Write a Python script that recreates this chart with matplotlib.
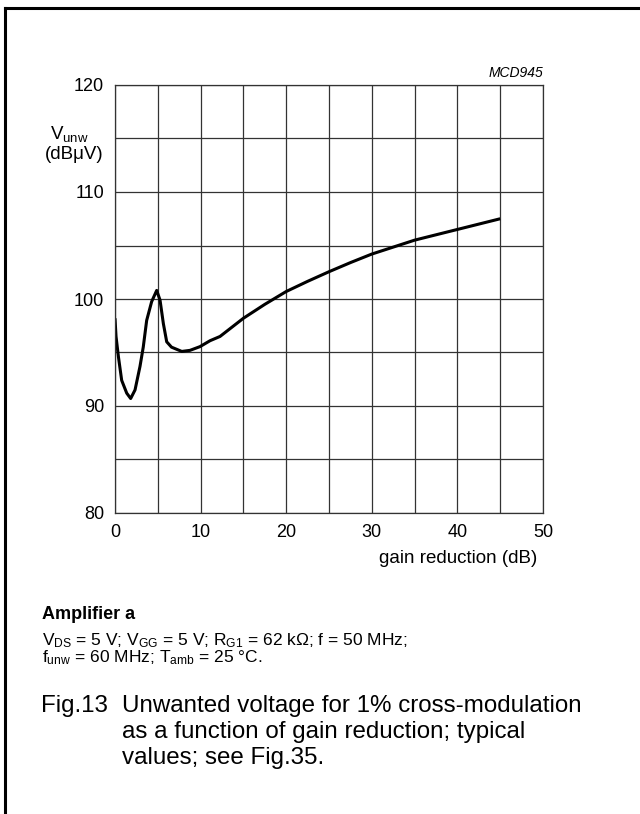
import numpy as np
import matplotlib
matplotlib.use("Agg")
import matplotlib.pyplot as plt
from matplotlib.lines import Line2D

plt.rcParams['font.family'] = ['Liberation Sans', 'DejaVu Sans']
plt.rcParams['mathtext.fontset'] = 'custom'
plt.rcParams['mathtext.rm'] = 'Liberation Sans'
plt.rcParams['mathtext.it'] = 'Liberation Sans:italic'
plt.rcParams['mathtext.bf'] = 'Liberation Sans:bold'

# curve (gain reduction dB, Vunw dBuV)
gain_red = [0.0, 0.12, 0.4, 0.78, 1.37, 1.83, 2.34, 2.92, 3.3, 3.7, 4.28, 4.87,
            5.26, 5.65, 6.04, 6.6, 7.8, 8.76, 9.93, 11.1, 12.27, 15.0, 17.5,
            20.0, 22.5, 25.0, 27.5, 30.0, 32.5, 35.0, 37.5, 40.0, 42.5, 45.0]
v_unw = [98.2, 96.5, 94.6, 92.4, 91.2, 90.7, 91.5, 93.7, 95.5, 98.0, 99.75, 100.8,
         99.9, 97.7, 96.0, 95.5, 95.1, 95.2, 95.55, 96.1, 96.5, 98.2, 99.5,
         100.7, 101.65, 102.55, 103.4, 104.2, 104.85, 105.5, 106.0, 106.5, 107.0, 107.5]

x_ticks = [0, 10, 20, 30, 40, 50]
y_ticks = [80, 90, 100, 110, 120]

W, H = 640, 814
fig = plt.figure(figsize=(W / 100, H / 100), dpi=100)

# page frame (top and left edges only)
fig.add_artist(Line2D([5 / W, 1.0], [1 - 8 / H, 1 - 8 / H], color='black', lw=2.2))
fig.add_artist(Line2D([5 / W, 5 / W], [1 - 8 / H, 0.0], color='black', lw=2.2))

ax = fig.add_axes([115 / W, 1 - 513 / H, 428 / W, 428 / H])
ax.plot(gain_red, v_unw, color='black', lw=2.2, solid_capstyle='butt')
ax.set_xlim(0, 50)
ax.set_ylim(80, 120)
ax.set_xticks(np.arange(0, 51, 5))
ax.set_yticks(np.arange(80, 121, 5))
ax.set_xticklabels([str(t) if t in x_ticks else '' for t in range(0, 51, 5)])
ax.set_yticklabels([str(t) if t in y_ticks else '' for t in range(80, 121, 5)])
ax.grid(True, color='#333333', lw=0.9)
ax.tick_params(length=0, labelsize=13, pad=8)
for s in ax.spines.values():
    s.set_linewidth(0.9)
    s.set_color('#333333')

fig.text(543 / W, 1 - 77 / H, 'MCD945', ha='right', va='baseline',
         fontsize=10, style='italic')
fig.text(50 / W, 1 - 139 / H, r'V$_{\rm unw}$', ha='left', va='baseline', fontsize=13.5)
fig.text(45 / W, 1 - 159 / H, '(dBμV)', ha='left', va='baseline', fontsize=13.5)
fig.text(537 / W, 1 - 563 / H, 'gain reduction (dB)', ha='right', va='baseline',
         fontsize=13.5)

fig.text(42 / W, 1 - 619 / H, 'Amplifier a', ha='left', va='baseline',
         fontsize=13, weight='bold')
fig.text(42 / W, 1 - 645 / H,
         r'V$_{\rm DS}$ = 5 V; V$_{\rm GG}$ = 5 V; R$_{\rm G1}$ = 62 kΩ; f = 50 MHz;',
         ha='left', va='baseline', fontsize=12.5)
fig.text(42 / W, 1 - 662 / H,
         r'f$_{\rm unw}$ = 60 MHz; T$_{\rm amb}$ = 25 °C.',
         ha='left', va='baseline', fontsize=12.5)

fig.text(41 / W, 1 - 712 / H, 'Fig.13', ha='left', va='baseline', fontsize=17.4)
fig.text(122 / W, 1 - 712 / H, 'Unwanted voltage for 1% cross-modulation',
         ha='left', va='baseline', fontsize=17.4)
fig.text(122 / W, 1 - 738 / H, 'as a function of gain reduction; typical',
         ha='left', va='baseline', fontsize=17.4)
fig.text(122 / W, 1 - 764 / H, 'values; see Fig.35.',
         ha='left', va='baseline', fontsize=17.4)

fig.savefig('out.png', dpi=100)
